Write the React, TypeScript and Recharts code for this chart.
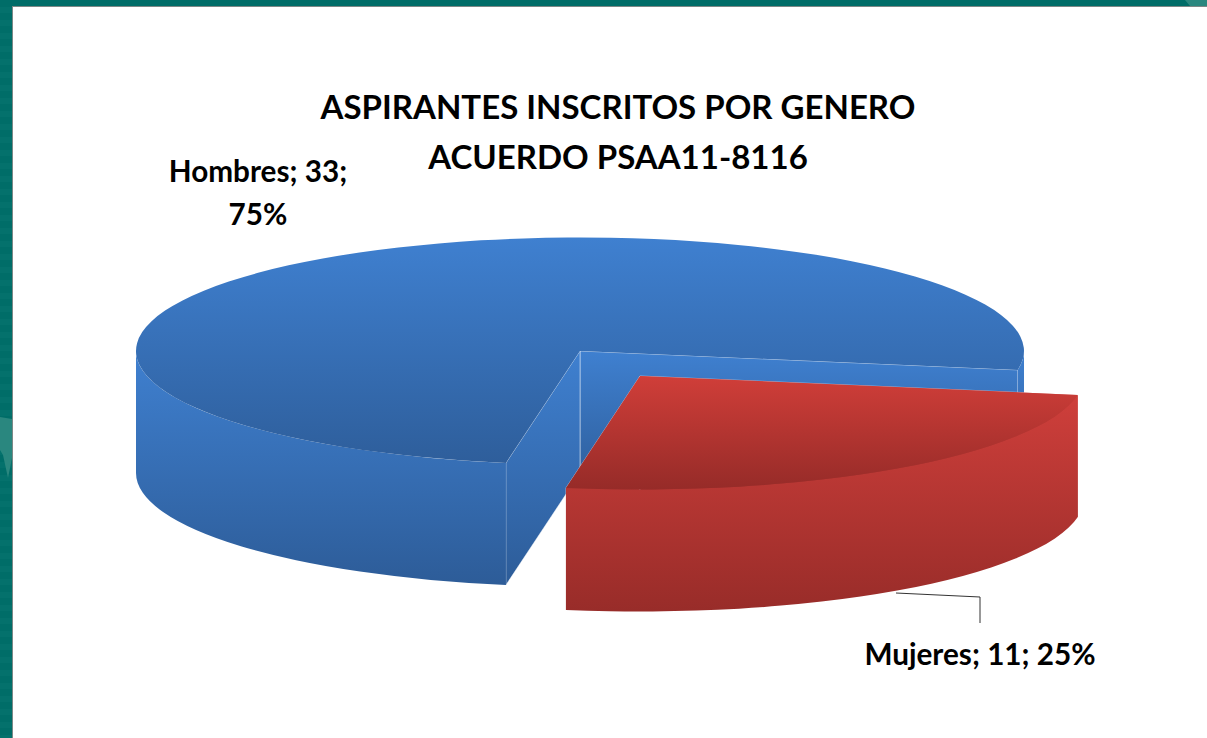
import React from 'react';
import { PieChart, Pie } from 'recharts';

const TITLE_LINES = ['ASPIRANTES INSCRITOS POR GENERO', 'ACUERDO PSAA11-8116'];
const CATEGORIES = ['Hombres', 'Mujeres'];
const VALUES = [33, 11];
const PERCENTS = [75, 25];

const WIDTH = 1207;
const HEIGHT = 738;
const CX = 580;
const CY = 351;
const RX = 444;
const RY = 113.5;
const DEPTH = 122;
const FONT = 'Lato, "Open Sans", sans-serif';

// top + side gradient stops and the explode offset of each slice
const LOOK: Record<string, any> = {
  Hombres: { top: ['#3f80d0', '#2e5e9b'], side: ['#3f80d0', '#2d5c98'], dx: 0, dy: 0 },
  Mujeres: { top: ['#d03e39', '#962b28'], side: ['#cf3f3b', '#982c29'], dx: 60, dy: 25 },
};

const chartData = CATEGORIES.map((name, i) => ({ name, value: VALUES[i] }));

function SliceShape(props: any) {
  const { cx, cy, outerRadius, startAngle, endAngle, name } = props;
  const look = LOOK[name];
  const ratio = RY / outerRadius;
  const x0 = cx + look.dx;
  const y0 = cy + look.dy;
  const pt = (deg: number, drop = 0) => {
    const a = (deg * Math.PI) / 180;
    return [x0 + outerRadius * Math.cos(a), y0 - outerRadius * ratio * Math.sin(a) + drop];
  };
  const hi = Math.max(startAngle, endAngle);
  const lo = Math.min(startAngle, endAngle);
  const arc = (a: number, b: number, drop: number, sweep: number) => {
    const [x, y] = pt(b, drop);
    const large = Math.abs(b - a) > 180 ? 1 : 0;
    return `A${outerRadius} ${outerRadius * ratio} 0 ${large} ${sweep} ${x} ${y}`;
  };
  const start = pt(hi);
  const end = pt(lo);
  const topPath = `M${x0} ${y0}L${start[0]} ${start[1]}${arc(hi, lo, 0, 1)}Z`;

  // only the front half of the rim is visible
  const fronts: number[][] = [];
  [[0, -180], [-360, -540]].forEach(([a, b]) => {
    const from = Math.min(hi, a);
    const to = Math.max(lo, b);
    if (from > to) fronts.push([from, to]);
  });
  const sidePath = ([a, b]: number[]) => {
    const p = pt(a);
    const q = pt(b, DEPTH);
    return `M${p[0]} ${p[1]}${arc(a, b, 0, 1)}L${q[0]} ${q[1]}${arc(b, a, DEPTH, 0)}Z`;
  };
  const cutPath = (p: number[]) =>
    `M${x0} ${y0}L${p[0]} ${p[1]}L${p[0]} ${p[1] + DEPTH}L${x0} ${y0 + DEPTH}Z`;

  const hair = 'rgba(255,255,255,0.45)';
  return (
    <g>
      <defs>
        <linearGradient id={`top-${name}`} x1="0" y1="0" x2="0" y2="1">
          <stop offset="0%" stopColor={look.top[0]} />
          <stop offset="100%" stopColor={look.top[1]} />
        </linearGradient>
        <linearGradient id={`side-${name}`} x1="0" y1="0" x2="0" y2="1">
          <stop offset="0%" stopColor={look.side[0]} />
          <stop offset="100%" stopColor={look.side[1]} />
        </linearGradient>
      </defs>
      <path d={cutPath(end)} fill={`url(#side-${name})`} stroke={hair} strokeWidth={1} />
      <path d={cutPath(start)} fill={`url(#side-${name})`} stroke={hair} strokeWidth={1} />
      {fronts.map((f, i) => (
        <path key={i} d={sidePath(f)} fill={`url(#side-${name})`} />
      ))}
      <path d={topPath} fill={`url(#top-${name})`} />
    </g>
  );
}

const textStyle: React.CSSProperties = {
  position: 'absolute',
  fontFamily: FONT,
  fontWeight: 700,
  color: '#000',
  whiteSpace: 'nowrap',
  textAlign: 'center',
  transform: 'translateX(-50%)',
};

export default function App() {
  return (
    <div style={{ position: 'absolute', left: 0, top: 0, width: WIDTH, height: HEIGHT, background: '#fff', overflow: 'hidden' }}>
      {/* slide frame */}
      <div style={{ position: 'absolute', left: 0, top: 0, width: 12, height: HEIGHT, background: 'repeating-linear-gradient(180deg,#006d68 0 7px,#04716c 7px 13px)' }} />
      <div style={{ position: 'absolute', left: 0, top: 0, width: WIDTH, height: 6, background: '#006d68' }} />
      <div style={{ position: 'absolute', left: 12, top: 6, width: 1, height: HEIGHT, background: '#7c8886' }} />
      <div style={{ position: 'absolute', left: 12, top: 6, width: WIDTH, height: 1, background: '#7c8886' }} />
      <svg width={WIDTH} height={HEIGHT} style={{ position: 'absolute', left: 0, top: 0 }}>
        <polygon points="0,417 12,419 12,458 8,478 3,455 0,450" fill="#2a877f" />
        <polygon points="1185,0 1207,0 1207,6 1190,6" fill="#2a877f" />
      </svg>

      <div style={{ position: 'absolute', left: 0, top: 0 }}>
        <PieChart width={WIDTH} height={HEIGHT} margin={{ top: 0, right: 0, bottom: 0, left: 0 }}>
          <Pie
            data={chartData}
            dataKey="value"
            nameKey="name"
            cx={CX}
            cy={CY}
            innerRadius={0}
            outerRadius={RX}
            startAngle={-99.6}
            endAngle={-459.6}
            stroke="none"
            isAnimationActive={false}
            shape={SliceShape}
          />
        </PieChart>
      </div>

      {/* leader line of the Mujeres label */}
      <svg width={WIDTH} height={HEIGHT} style={{ position: 'absolute', left: 0, top: 0, pointerEvents: 'none' }}>
        <polyline points="896,593 980,597 980,623" fill="none" stroke="#333" strokeWidth={1} />
      </svg>

      {TITLE_LINES.map((line, i) => (
        <div key={line} style={{ ...textStyle, left: 618, top: 84 + i * 49.5, fontSize: 33, lineHeight: '44px' }}>{line}</div>
      ))}
      <div style={{ ...textStyle, left: 258, top: 149, fontSize: 29.7, lineHeight: '43px' }}>
        {CATEGORIES[0]}; {VALUES[0]};<br />{PERCENTS[0]}%
      </div>
      <div style={{ ...textStyle, left: 980, top: 632, fontSize: 29.7, lineHeight: '43px' }}>
        {CATEGORIES[1]}; {VALUES[1]}; {PERCENTS[1]}%
      </div>
    </div>
  );
}
